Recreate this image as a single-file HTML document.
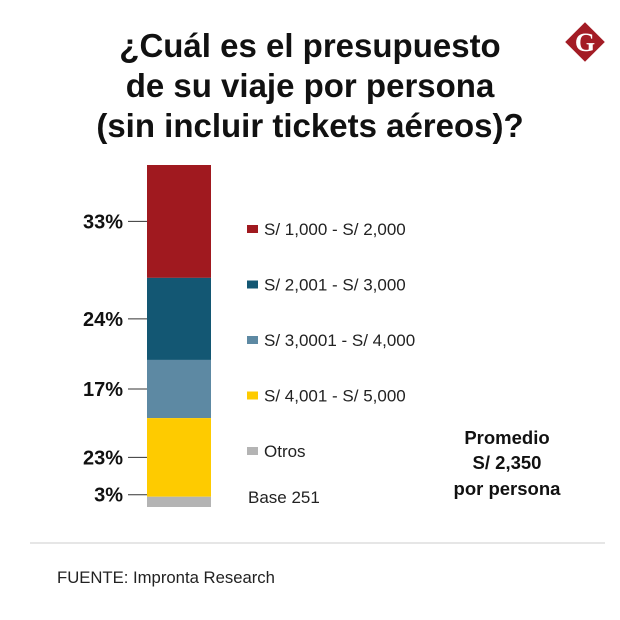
<!DOCTYPE html>
<html><head><meta charset="utf-8"><style>
body{margin:0;background:#fff;font-family:"Liberation Sans",sans-serif;}
</style></head><body>
<svg width="620" height="615" xmlns="http://www.w3.org/2000/svg">
<rect width="620" height="615" fill="#fff"/>
<g font-family="Liberation Sans, sans-serif" font-weight="bold" font-size="33" fill="#111" text-anchor="middle">
<text x="310" y="57">¿Cuál es el presupuesto</text>
<text x="310" y="97">de su viaje por persona</text>
<text x="310" y="137">(sin incluir tickets aéreos)?</text>
</g>
<g>
<rect x="571" y="28" width="28" height="28" fill="#a31c25" transform="rotate(45 585 42)"/>
<text x="585" y="51" font-family="Liberation Serif, serif" font-weight="bold" font-size="26" fill="#fff" text-anchor="middle">G</text>
</g>
<g id="bar"></g>
<g id="legend"></g>
<g font-weight="bold" font-size="18.5" fill="#111" text-anchor="middle">
<text x="507" y="444">Promedio</text>
<text x="507" y="469">S/ 2,350</text>
<text x="507" y="495">por persona</text>
</g>
<text x="248" y="503" font-size="17" fill="#222">Base 251</text>
<line x1="30" y1="543" x2="605" y2="543" stroke="#ccc" stroke-width="1"/>
<text x="57" y="583" font-size="16.7" fill="#222">FUENTE: Impronta Research</text>
</svg>
<script>
const categories=["S/ 1,000 - S/ 2,000","S/ 2,001 - S/ 3,000","S/ 3,0001 - S/ 4,000","S/ 4,001 - S/ 5,000","Otros"];
const values=[33,24,17,23,3];
const colors=["#a0191f","#135773","#5d89a3","#fecb00","#b4b4b4"];
const NS="http://www.w3.org/2000/svg";
const barTop=165,barH=342,barX=147,barW=64;
const total=values.reduce((a,b)=>a+b,0);
const yS=v=>v/total*barH;
const bar=document.getElementById('bar');
let y=barTop;
values.forEach((v,i)=>{
 const h=yS(v);
 const r=document.createElementNS(NS,'rect');
 r.setAttribute('x',barX);r.setAttribute('y',y);r.setAttribute('width',barW);r.setAttribute('height',h);r.setAttribute('fill',colors[i]);
 
 
 bar.appendChild(r);
 let cy=y+h/2; if(h<15) cy=y-2;
 const l=document.createElementNS(NS,'line');
 l.setAttribute('x1',128);l.setAttribute('x2',barX);l.setAttribute('y1',cy);l.setAttribute('y2',cy);l.setAttribute('stroke','#333');l.setAttribute('stroke-width','1');
 
 
 bar.appendChild(l);
 const t=document.createElementNS(NS,'text');
 t.setAttribute('x',123);t.setAttribute('y',cy+7);t.setAttribute('text-anchor','end');t.setAttribute('font-weight','bold');t.setAttribute('font-size','20');t.setAttribute('fill','#111');
 t.textContent=v+'%';
 
 
 bar.appendChild(t);
 y+=h;
});
const leg=document.getElementById('legend');
categories.forEach((c,i)=>{
 const ly=229+i*55.5;
 const s=document.createElementNS(NS,'rect');
 s.setAttribute('x',247);s.setAttribute('y',ly-4);s.setAttribute('width',11);s.setAttribute('height',8);s.setAttribute('fill',colors[i]);
 
 
 leg.appendChild(s);
 const t=document.createElementNS(NS,'text');
 t.setAttribute('x',264);t.setAttribute('y',ly+6);t.setAttribute('font-size','17');t.setAttribute('fill','#222');
 t.textContent=c;
 
 
 leg.appendChild(t);
});
</script>
</body></html>
